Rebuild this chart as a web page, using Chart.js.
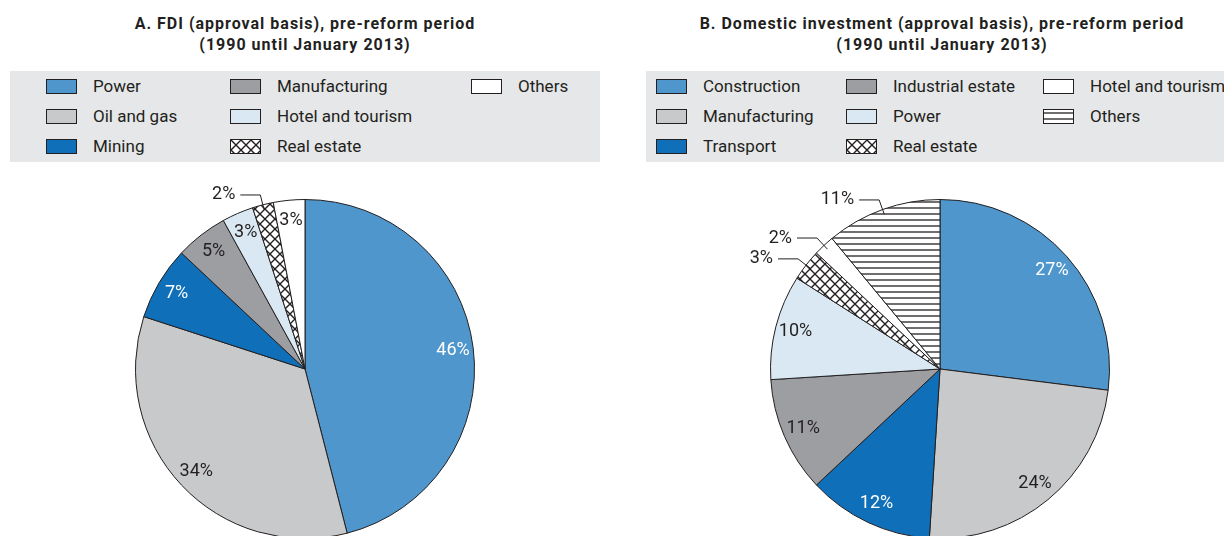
<!DOCTYPE html>
<html>
<head>
<meta charset="utf-8">
<script src="https://cdn.jsdelivr.net/npm/chart.js@4.4.1/dist/chart.umd.min.js"></script>
<style>
  html, body { margin: 0; padding: 0; background: #fff; }
  body {
    width: 1224px; height: 536px; position: relative; overflow: hidden;
    font-family: Roboto, 'Liberation Sans', sans-serif; color: #231f20;
  }
  .title {
    position: absolute; top: 13px; width: 640px; text-align: center;
    font-weight: 700; font-size: 16px; letter-spacing: 1px; line-height: 21px;
  }
  .legend { position: absolute; top: 71px; height: 91px; background: #e6e7e8; }
  .legend .item {
    position: absolute; height: 30px; display: flex; align-items: center;
    font-size: 17px; white-space: nowrap;
  }
  .legend .sw {
    width: 29px; height: 13px; border: 1px solid #231f20; margin-right: 16px;
    flex: none; box-sizing: content-box;
  }
  canvas { position: absolute; }
</style>
</head>
<body>
<div class="title" style="left:-15px">A. FDI (approval basis), pre-reform period<br>(1990 until January 2013)</div>
<div class="title" style="left:622px">B. Domestic investment (approval basis), pre-reform period<br>(1990 until January 2013)</div>
<div class="legend" id="legA" style="left:10px;width:590px"></div>
<div class="legend" id="legB" style="left:646px;width:590px"></div>
<canvas id="pieA" width="400" height="400" style="left:105px;top:169px"></canvas>
<canvas id="pieB" width="400" height="400" style="left:740px;top:169px"></canvas>
<script>
// ---- data ----
const fdiLabels = ['Power', 'Oil and gas', 'Mining', 'Manufacturing', 'Hotel and tourism', 'Real estate', 'Others'];
const fdiValues = [46, 34, 7, 5, 3, 2, 3];

const domLabels = ['Construction', 'Manufacturing', 'Transport', 'Industrial estate', 'Power', 'Real estate', 'Hotel and tourism', 'Others'];
const domValues = [27, 24, 12, 11, 10, 3, 2, 11];

// ---- styles ----
const INK   = '#231f20';
const BLUE  = '#4f96cd';
const DBLUE = '#0f6fb8';
const LGRAY = '#c8c9cb';
const MGRAY = '#9d9ea1';
const LBLUE = '#d9e8f3';
const WHITE = '#ffffff';

function tile(size, draw) {
  const c = document.createElement('canvas');
  c.width = c.height = size;
  const g = c.getContext('2d');
  g.fillStyle = '#fff';
  g.fillRect(0, 0, size, size);
  g.strokeStyle = INK;
  draw(g, size);
  return c;
}
const crossTile = tile(10, (g, s) => {
  g.lineWidth = 1.4;
  g.beginPath();
  g.moveTo(-1, -1); g.lineTo(s + 1, s + 1);
  g.moveTo(s + 1, -1); g.lineTo(-1, s + 1);
  g.stroke();
});
const lineTile = tile(6, (g, s) => {
  g.lineWidth = 1.3;
  g.beginPath();
  g.moveTo(0, 3); g.lineTo(s, 3);
  g.stroke();
});
const pctx = document.createElement('canvas').getContext('2d');
const CROSS  = pctx.createPattern(crossTile, 'repeat');
const HLINES = pctx.createPattern(lineTile, 'repeat');

const fdiFills = [BLUE, LGRAY, DBLUE, MGRAY, LBLUE, CROSS, WHITE];
const domFills = [BLUE, LGRAY, DBLUE, MGRAY, LBLUE, CROSS, WHITE, HLINES];

function swatchCss(fill) {
  if (fill === CROSS)  return 'background:#fff url(' + crossTile.toDataURL() + ')';
  if (fill === HLINES) return 'background:#fff url(' + lineTile.toDataURL() + ')';
  return 'background:' + fill;
}

// legend, column-major, three rows
function buildLegend(el, labels, fills, colX) {
  labels.forEach((lab, i) => {
    const d = document.createElement('div');
    d.className = 'item';
    d.style.left = (colX[Math.floor(i / 3)] - el.offsetLeft) + 'px';
    d.style.top = (i % 3) * 30 + 'px';
    d.innerHTML = '<span class="sw" style="' + swatchCss(fills[i]) + '"></span>' + lab;
    el.appendChild(d);
  });
}
buildLegend(document.getElementById('legA'), fdiLabels, fdiFills, [46, 230, 471]);
buildLegend(document.getElementById('legB'), domLabels, domFills, [656, 846, 1043]);

// percentage labels, with leader lines for the thin slices
const sliceLabels = {
  id: 'sliceLabels',
  afterDatasetsDraw(chart, args, opts) {
    const ctx = chart.ctx;
    const meta = chart.getDatasetMeta(0);
    const values = chart.data.datasets[0].data;
    const fills = chart.data.datasets[0].backgroundColor;
    ctx.save();
    ctx.font = '18px Roboto';
    ctx.textBaseline = 'middle';
    ctx.strokeStyle = INK;
    ctx.lineWidth = 1;
    meta.data.forEach((arc, i) => {
      const p = arc.getProps(['x', 'y', 'startAngle', 'endAngle', 'outerRadius'], true);
      const mid = (p.startAngle + p.endAngle) / 2;
      const cx = Math.cos(mid), cy = Math.sin(mid);
      const txt = values[i] + '%';
      if (opts.outside.includes(i)) {
        const r0 = p.outerRadius * 0.97, r1 = p.outerRadius * 1.06;
        const kx = p.x + cx * r1, ky = p.y + cy * r1;
        ctx.beginPath();
        ctx.moveTo(p.x + cx * r0, p.y + cy * r0);
        ctx.lineTo(kx, ky);
        ctx.lineTo(kx - 20, ky);
        ctx.stroke();
        ctx.fillStyle = INK;
        ctx.textAlign = 'right';
        ctx.fillText(txt, kx - 25, ky);
      } else {
        const r = p.outerRadius * 0.88;
        ctx.fillStyle = (fills[i] === BLUE || fills[i] === DBLUE) ? '#fff' : INK;
        ctx.textAlign = 'center';
        ctx.fillText(txt, p.x + cx * r, p.y + cy * r);
      }
    });
    ctx.restore();
  }
};

function makePie(id, labels, values, fills, outside) {
  return new Chart(document.getElementById(id), {
    type: 'pie',
    data: {
      labels: labels,
      datasets: [{
        data: values,
        backgroundColor: fills,
        borderColor: INK,
        borderWidth: 1,
        hoverOffset: 0
      }]
    },
    options: {
      responsive: false,
      animation: false,
      events: [],
      layout: { padding: 30 },
      plugins: {
        legend: { display: false },
        tooltip: { enabled: false },
        sliceLabels: { outside: outside }
      }
    },
    plugins: [sliceLabels]
  });
}

makePie('pieA', fdiLabels, fdiValues, fdiFills, [5]);
makePie('pieB', domLabels, domValues, domFills, [5, 6, 7]);
</script>
</body>
</html>
